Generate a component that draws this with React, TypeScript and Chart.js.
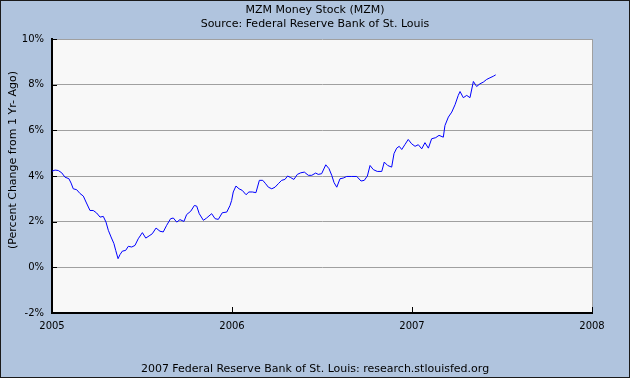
import React, { useEffect, useRef } from "react";
import { Chart, registerables } from "chart.js";

Chart.register(...registerables);

const titleText = "MZM Money Stock (MZM)";
const subtitleText = "Source: Federal Reserve Bank of St. Louis";
const footerText = "2007 Federal Reserve Bank of St. Louis: research.stlouisfed.org";
const yAxisTitle = "(Percent Change from 1 Yr- Ago)";

const xTickYears = [2005, 2006, 2007, 2008];
const yTickValues = [-2, 0, 2, 4, 6, 8, 10];

// Observation dates (decimal years)
const dates = [
  2005.0, 2005.017, 2005.035, 2005.054, 2005.072, 2005.094, 2005.106, 2005.118, 2005.137, 2005.156,
  2005.174, 2005.189, 2005.211, 2005.229, 2005.248, 2005.267, 2005.285, 2005.3, 2005.313, 2005.328,
  2005.344, 2005.354, 2005.367, 2005.378, 2005.391, 2005.409, 2005.424, 2005.443, 2005.461, 2005.479,
  2005.502, 2005.521, 2005.544, 2005.557, 2005.578, 2005.6, 2005.618, 2005.637, 2005.659, 2005.674,
  2005.693, 2005.711, 2005.733, 2005.748, 2005.771, 2005.791, 2005.804, 2005.818, 2005.841, 2005.859,
  2005.887, 2005.906, 2005.924, 2005.946, 2005.971, 2005.989, 2005.998, 2006.007, 2006.022, 2006.039,
  2006.057, 2006.078, 2006.094, 2006.113, 2006.133, 2006.152, 2006.171, 2006.187, 2006.202, 2006.221,
  2006.239, 2006.257, 2006.276, 2006.294, 2006.309, 2006.326, 2006.344, 2006.363, 2006.382, 2006.402,
  2006.424, 2006.443, 2006.465, 2006.479, 2006.498, 2006.521, 2006.539, 2006.554, 2006.567, 2006.582,
  2006.6, 2006.618, 2006.637, 2006.665, 2006.693, 2006.717, 2006.735, 2006.752, 2006.767, 2006.785,
  2006.807, 2006.832, 2006.846, 2006.865, 2006.887, 2006.9, 2006.915, 2006.929, 2006.943, 2006.961,
  2006.979, 2006.998, 2007.017, 2007.035, 2007.054, 2007.072, 2007.091, 2007.109, 2007.132, 2007.15,
  2007.174, 2007.183, 2007.202, 2007.221, 2007.239, 2007.257, 2007.267, 2007.285, 2007.304, 2007.322,
  2007.341, 2007.359, 2007.378, 2007.396, 2007.415, 2007.433, 2007.452, 2007.465,
];

// MZM percent change from one year ago
const pctChange = [
  4.21, 4.26, 4.24, 4.14, 3.95, 3.88, 3.69, 3.44, 3.4, 3.23,
  3.12, 2.86, 2.49, 2.49, 2.38, 2.2, 2.23, 1.98, 1.62, 1.33,
  1.04, 0.74, 0.38, 0.56, 0.71, 0.74, 0.92, 0.89, 0.96, 1.25,
  1.52, 1.28, 1.4, 1.47, 1.72, 1.58, 1.55, 1.84, 2.13, 2.16,
  1.98, 2.09, 2.01, 2.31, 2.46, 2.71, 2.68, 2.35, 2.06, 2.16,
  2.35, 2.13, 2.1, 2.39, 2.42, 2.71, 2.93, 3.3, 3.56, 3.44,
  3.37, 3.18, 3.3, 3.3, 3.27, 3.81, 3.81, 3.66, 3.51, 3.44,
  3.51, 3.66, 3.81, 3.85, 4.0, 3.93, 3.85, 4.07, 4.14, 4.17,
  4.03, 4.03, 4.13, 4.07, 4.1, 4.49, 4.32, 4.03, 3.71, 3.51,
  3.88, 3.91, 3.98, 3.98, 3.98, 3.78, 3.81, 4.0, 4.46, 4.28,
  4.2, 4.2, 4.61, 4.46, 4.39, 4.98, 5.22, 5.3, 5.16, 5.38,
  5.6, 5.41, 5.3, 5.37, 5.19, 5.46, 5.22, 5.63, 5.68, 5.78,
  5.7, 6.21, 6.58, 6.8, 7.12, 7.53, 7.7, 7.43, 7.53, 7.43,
  8.14, 7.92, 8.04, 8.11, 8.23, 8.3, 8.37, 8.43,
];

const FONT = '"DejaVu Sans", Verdana, sans-serif';

const decorPlugin = {
  id: "decor",
  beforeDraw(chart: any) {
    const { ctx, chartArea: a, width, height } = chart;
    ctx.save();
    ctx.fillStyle = "#B0C4DE";
    ctx.fillRect(0, 0, width, height);
    ctx.fillStyle = "#F8F8F8";
    ctx.fillRect(a.left, a.top, a.right - a.left, a.bottom - a.top);
    ctx.restore();
  },
  afterDraw(chart: any) {
    const { ctx, chartArea: a, width, height, scales } = chart;
    ctx.save();
    // inner tick marks
    ctx.strokeStyle = "#000000";
    ctx.lineWidth = 1;
    ctx.beginPath();
    for (const v of yTickValues) {
      const y = Math.round(scales.y.getPixelForValue(v)) + 0.5;
      ctx.moveTo(a.left, y);
      ctx.lineTo(a.left + 5, y);
    }
    for (const v of xTickYears) {
      const x = Math.round(scales.x.getPixelForValue(v)) + 0.5;
      ctx.moveTo(x, a.bottom);
      ctx.lineTo(x, a.bottom - 6);
    }
    ctx.stroke();

    // texts
    ctx.fillStyle = "#000000";
    ctx.textAlign = "center";
    ctx.textBaseline = "middle";
    ctx.font = `11px ${FONT}`;
    ctx.fillText(titleText, width / 2, 10);
    ctx.fillText(subtitleText, width / 2, 24);
    ctx.fillText(footerText, width / 2, 369);

    ctx.save();
    ctx.translate(13, 160);
    ctx.rotate(-Math.PI / 2);
    ctx.font = `11px ${FONT}`;
    ctx.fillText(yAxisTitle, 0, 0);
    ctx.restore();

    // outer border
    ctx.strokeStyle = "#1a1a1a";
    ctx.lineWidth = 1;
    ctx.strokeRect(0.5, 0.5, width - 1, height - 1);
    ctx.restore();
  },
};

export default function App() {
  const canvasRef = useRef<HTMLCanvasElement | null>(null);

  useEffect(() => {
    document.body.style.margin = "0";
    const canvas = canvasRef.current;
    if (!canvas) return;
    const chart = new Chart(canvas, {
      type: "line",
      data: {
        datasets: [
          {
            label: "MZM",
            data: dates.map((d, i) => ({ x: d, y: pctChange[i] })),
            borderColor: "#0000FF",
            borderWidth: 1,
            pointRadius: 0,
            tension: 0,
            fill: false,
          },
        ],
      },
      options: {
        animation: false,
        responsive: false,
        devicePixelRatio: 1,
        layout: { padding: { left: 0, top: 39, right: 38, bottom: 0 } },
        plugins: {
          legend: { display: false },
          tooltip: { enabled: false },
          title: { display: false },
        },
        scales: {
          x: {
            type: "linear",
            min: 2005,
            max: 2008,
            afterBuildTicks: (scale: any) => {
              scale.ticks = xTickYears.map((v) => ({ value: v }));
            },
            afterFit: (scale: any) => {
              scale.height = 65;
            },
            ticks: {
              color: "#000000",
              font: { family: FONT, size: 10 },
              padding: 7,
              maxRotation: 0,
              callback: (v: any) => String(v),
            },
            grid: {
              display: true,
              drawTicks: false,
              color: (c: any) => (c.tick && c.tick.value === 2008 ? "#A0A0A0" : "rgba(0,0,0,0)"),
              lineWidth: 1,
            },
            border: { display: true, color: "#000000", width: 2 },
          },
          y: {
            min: -2,
            max: 10,
            afterBuildTicks: (scale: any) => {
              scale.ticks = yTickValues.map((v) => ({ value: v }));
            },
            afterFit: (scale: any) => {
              scale.width = 52;
            },
            ticks: {
              color: "#000000",
              font: { family: FONT, size: 10 },
              padding: 8,
              callback: (v: any) => `${v}%`,
            },
            grid: {
              display: true,
              drawTicks: false,
              color: "#A0A0A0",
              lineWidth: 1,
            },
            border: { display: true, color: "#000000", width: 2 },
          },
        },
      },
      plugins: [decorPlugin],
    });
    return () => chart.destroy();
  }, []);

  return (
    <div style={{ width: 630, height: 378 }}>
      <canvas ref={canvasRef} width={630} height={378} style={{ display: "block" }} />
    </div>
  );
}
